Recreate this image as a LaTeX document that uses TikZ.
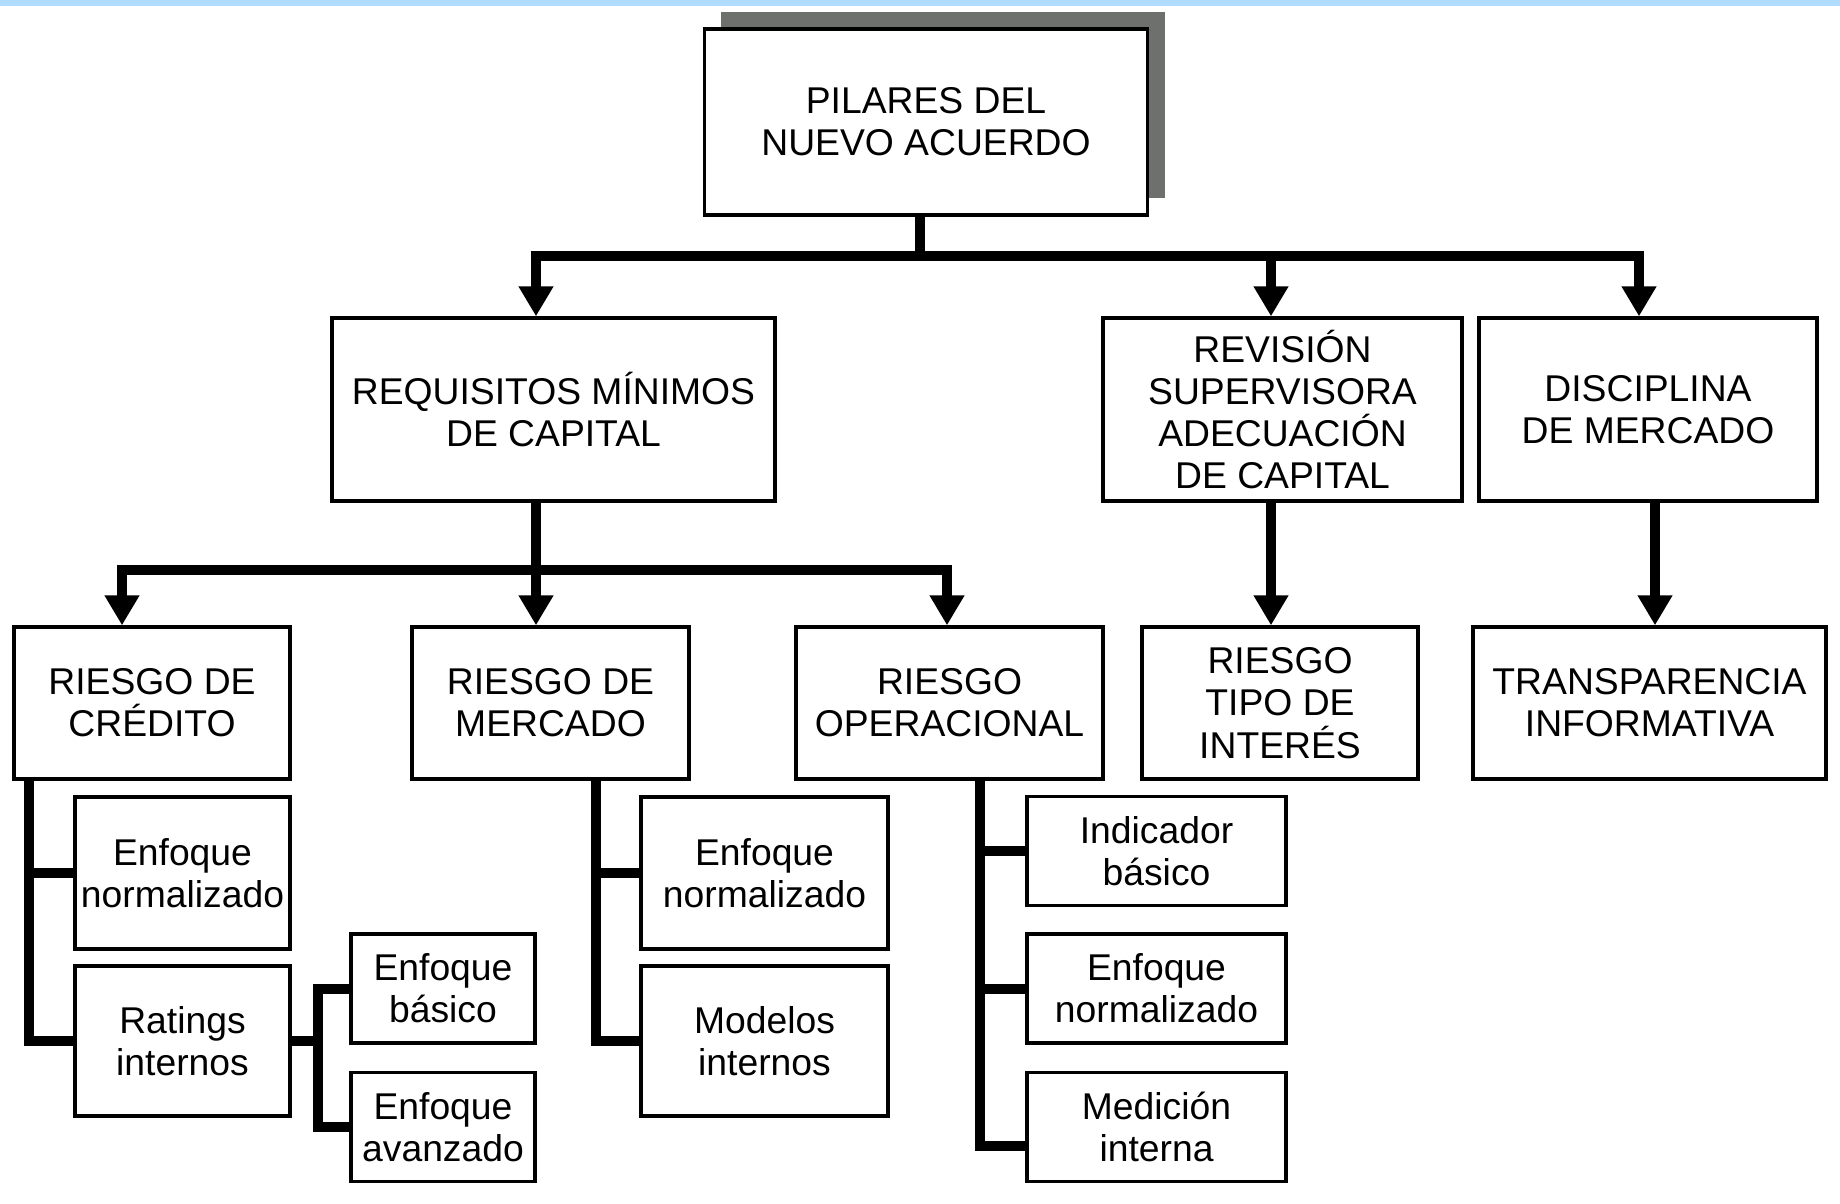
\documentclass[tikz,border=0pt]{standalone}
\usepackage{fontspec}
\setmainfont{Liberation Sans}
\usetikzlibrary{arrows.meta,shadows}
\definecolor{barblue}{RGB}{176,221,255}
\definecolor{shadowgray}{RGB}{110,112,110}
\begin{document}
\begin{tikzpicture}[x=0.01cm,y=-0.01cm,
    box/.style={draw,line width=0.033cm,inner sep=0pt,align=center,fill=white,
      font=\fontsize{10.6}{12}\selectfont},
    top/.style={box,minimum height=1.83cm},
    mid/.style={box,minimum height=1.52cm},
    leaf/.style={box,minimum height=1.5cm},
    small/.style={box,minimum height=1.09cm},
    bus/.style={line width=0.1cm},
    >={Triangle[width=0.33cm,length=0.3cm]}]
  \useasboundingbox (0,0) rectangle (1840,1203);
  \fill[barblue] (0,0) rectangle (1840,6);

  \node[box,minimum width=4.43cm,minimum height=1.86cm,
    drop shadow={shadow xshift=0.17cm,shadow yshift=0.17cm,fill=shadowgray,opacity=1}]
    (root) at (926,122) {PILARES DEL\\NUEVO ACUERDO};

  \node[top,minimum width=4.43cm] (req) at (553.5,409.5) {REQUISITOS MÍNIMOS\\DE CAPITAL};
  \node[top,minimum width=3.59cm] (rev) at (1282.5,409.5) {REVISIÓN\\SUPERVISORA\\ADECUACIÓN\\DE CAPITAL};
  \node[top,minimum width=3.38cm] (disc) at (1648,409.5) {DISCIPLINA\\DE MERCADO};

  \node[mid,minimum width=2.76cm] (cred) at (152,703) {RIESGO DE\\CRÉDITO};
  \node[mid,minimum width=2.77cm] (merc) at (550.5,703) {RIESGO DE\\MERCADO};
  \node[mid,minimum width=3.07cm] (oper) at (949.5,703) {RIESGO\\OPERACIONAL};
  \node[mid,minimum width=2.76cm] (tipo) at (1280,703) {RIESGO\\TIPO DE\\INTERÉS};
  \node[mid,minimum width=3.53cm] (transp) at (1649.5,703) {TRANSPARENCIA\\INFORMATIVA};

  \node[mid,minimum width=2.15cm] (crNorm) at (182.5,873) {Enfoque\\normalizado};
  \node[leaf,minimum width=2.15cm] (crRat) at (182.5,1041) {Ratings\\internos};
  \node[small,minimum width=1.84cm] (ratBas) at (443,988.5) {Enfoque\\básico};
  \node[small,minimum width=1.84cm] (ratAv) at (443,1127) {Enfoque\\avanzado};
  \node[mid,minimum width=2.47cm] (meNorm) at (764.5,873) {Enfoque\\normalizado};
  \node[leaf,minimum width=2.47cm] (meMod) at (764.5,1041) {Modelos\\internos};
  \node[small,minimum width=2.59cm] (opInd) at (1156.5,851) {Indicador\\básico};
  \node[small,minimum width=2.59cm] (opNorm) at (1156.5,988.5) {Enfoque\\normalizado};
  \node[small,minimum width=2.59cm] (opMed) at (1156.5,1127) {Medición\\interna};

  \coordinate (j0) at (920,256);
  \coordinate (j1) at (536,256);
  \coordinate (j2) at (1271,256);
  \coordinate (j3) at (1639,256);
  \coordinate (k1) at (122,570);
  \coordinate (k2) at (536,570);
  \coordinate (k3) at (947,570);
  \coordinate (m1) at (1271,600);
  \coordinate (m2) at (1655,600);
  \coordinate (s1) at (29,0);
  \coordinate (s2) at (318,0);
  \coordinate (s3) at (596,0);
  \coordinate (s4) at (980,0);

  \draw[bus] (j0 |- root.south) -- (j0);
  \draw[bus,<->] (j1 |- req.north) -- (j1) -- (j3) -- (j3 |- disc.north);
  \draw[bus,->] (j2) -- (j2 |- rev.north);
  \draw[bus,->] (k2 |- req.south) -- (k2 |- merc.north);
  \draw[bus,<->] (k1 |- cred.north) -- (k1) -- (k3) -- (k3 |- oper.north);
  \draw[bus,->] (m1 |- rev.south) -- (m1 |- tipo.north);
  \draw[bus,->] (m2 |- disc.south) -- (m2 |- transp.north);

  \draw[bus] (s1 |- cred.south) |- (crRat.west);
  \draw[bus] (s1 |- crNorm.west) -- (crNorm.west);
  \draw[bus] (crRat.east) -- (s2 |- crRat.east);
  \draw[bus] (ratBas.west) -| (s2 |- ratAv.west) -- (ratAv.west);
  \draw[bus] (s3 |- merc.south) |- (meMod.west);
  \draw[bus] (s3 |- meNorm.west) -- (meNorm.west);
  \draw[bus] (s4 |- oper.south) |- ([yshift=-0.19cm]opMed.west);
  \draw[bus] (s4 |- opInd.west) -- (opInd.west);
  \draw[bus] (s4 |- opNorm.west) -- (opNorm.west);
\end{tikzpicture}
\end{document}
